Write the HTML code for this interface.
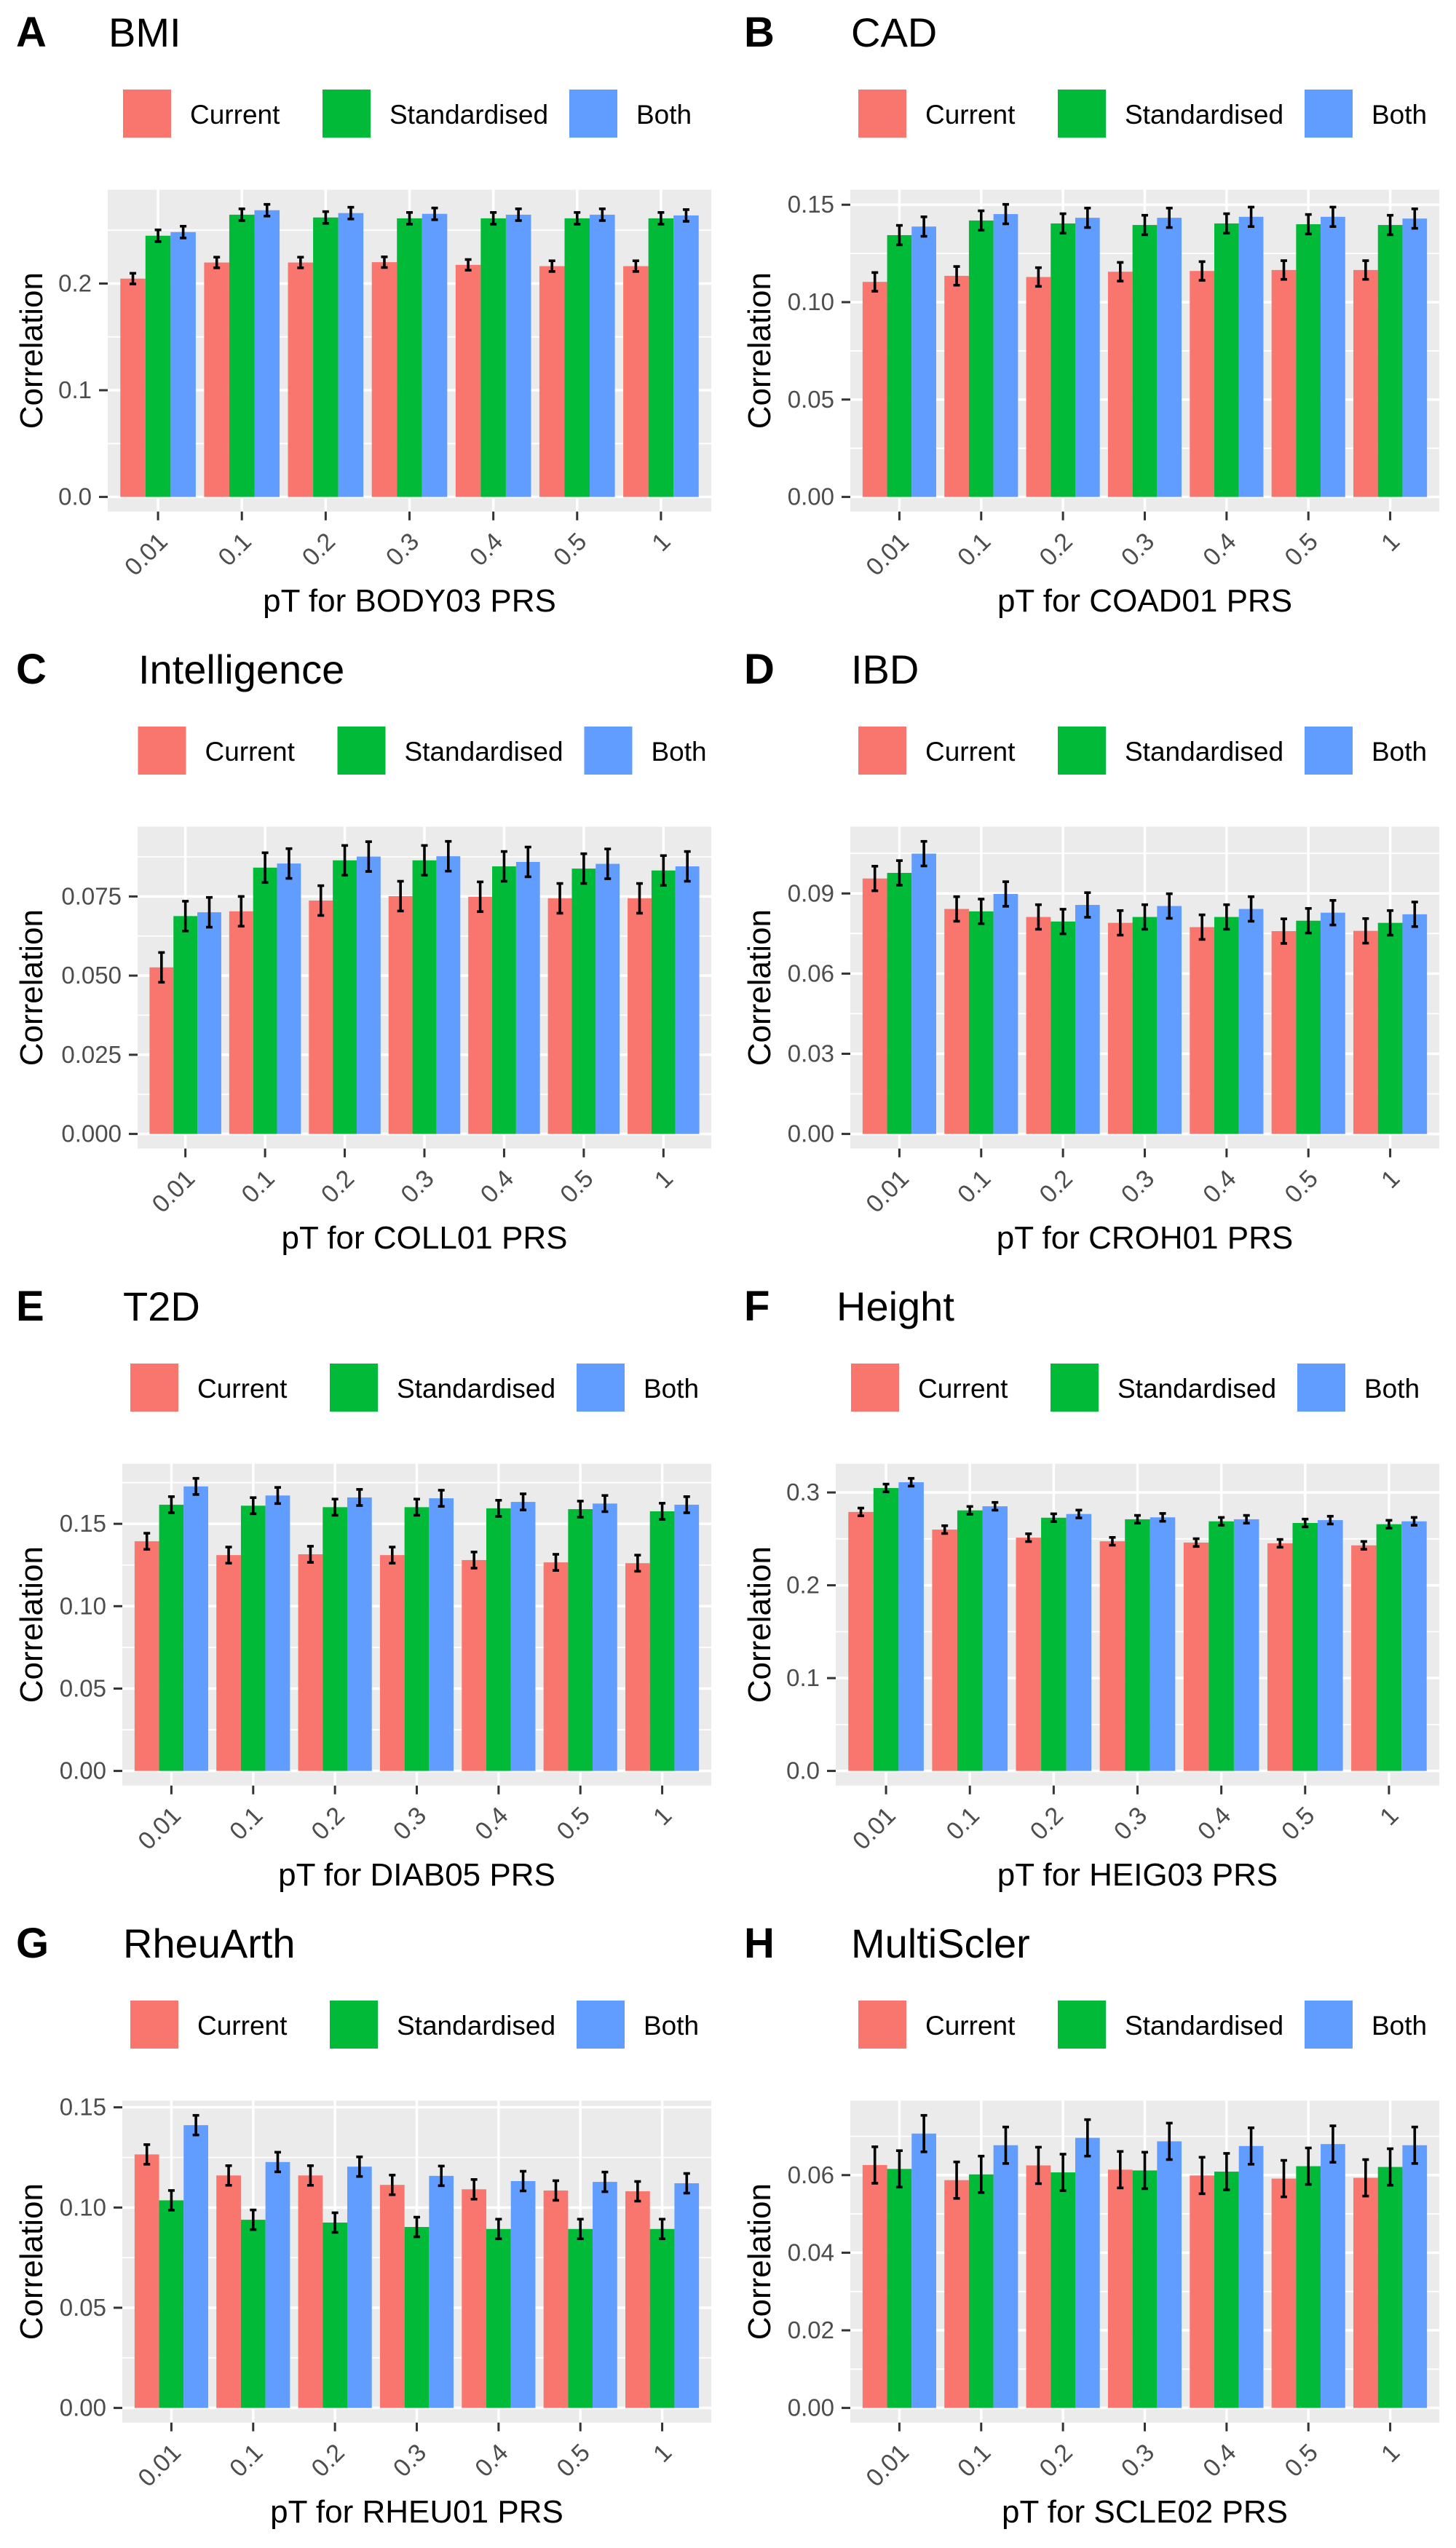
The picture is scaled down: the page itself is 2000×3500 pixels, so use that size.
<!DOCTYPE html>
<html><head><meta charset="utf-8">
<style>
html,body{margin:0;padding:0;background:#fff;}
svg{display:block;font-family:"Liberation Sans",Arial,sans-serif;}
</style></head>
<body>
<svg id="fig" width="2000" height="3500" viewBox="0 0 2000 3500" xmlns="http://www.w3.org/2000/svg"></svg>
<script>
// ---- shared data ----
const categories = ["0.01","0.1","0.2","0.3","0.4","0.5","1"];
const seriesNames = ["Current","Standardised","Both"];
const seriesColors = ["#F8766D","#00BA38","#619CFF"];

// Panel A — BMI
const A_current = [0.2046,0.2197,0.2197,0.2200,0.2175,0.2163,0.2163];
const A_standardised = [0.2448,0.2645,0.2619,0.2611,0.2611,0.2611,0.2611];
const A_both = [0.2482,0.2687,0.2660,0.2653,0.2645,0.2645,0.2638];
const A_err = [0.0050,0.0055,0.0055];
const A_ticks = [0,0.1,0.2];
const A_tickLabels = ["0.0","0.1","0.2"];
// Panel B — CAD
const B_current = [0.1104,0.1135,0.1129,0.1156,0.1160,0.1165,0.1165];
const B_standardised = [0.1344,0.1419,0.1404,0.1396,0.1404,0.1400,0.1396];
const B_both = [0.1388,0.1452,0.1433,0.1433,0.1438,0.1438,0.1429];
const B_err = [0.0048,0.0050,0.0050];
const B_ticks = [0,0.05,0.10,0.15];
const B_tickLabels = ["0.00","0.05","0.10","0.15"];
// Panel C — Intelligence
const C_current = [0.0526,0.0703,0.0737,0.0751,0.0749,0.0744,0.0744];
const C_standardised = [0.0688,0.0841,0.0864,0.0864,0.0845,0.0838,0.0832];
const C_both = [0.0700,0.0854,0.0876,0.0877,0.0859,0.0853,0.0845];
const C_err = [0.0047,0.0047,0.0047];
const C_ticks = [0,0.025,0.05,0.075];
const C_tickLabels = ["0.000","0.025","0.050","0.075"];
// Panel D — IBD
const D_current = [0.0956,0.0842,0.0812,0.0790,0.0774,0.0759,0.0760];
const D_standardised = [0.0977,0.0833,0.0795,0.0812,0.0812,0.0798,0.0790];
const D_both = [0.1049,0.0898,0.0857,0.0853,0.0842,0.0828,0.0822];
const D_err = [0.0046,0.0046,0.0046];
const D_ticks = [0,0.03,0.06,0.09];
const D_tickLabels = ["0.00","0.03","0.06","0.09"];
// Panel E — T2D
const E_current = [0.1394,0.1310,0.1315,0.1310,0.1280,0.1266,0.1261];
const E_standardised = [0.1616,0.1610,0.1601,0.1601,0.1594,0.1589,0.1576];
const E_both = [0.1727,0.1672,0.1660,0.1655,0.1633,0.1623,0.1616];
const E_err = [0.0049,0.0049,0.0049];
const E_ticks = [0,0.05,0.10,0.15];
const E_tickLabels = ["0.00","0.05","0.10","0.15"];
// Panel F — Height
const F_current = [0.2790,0.2600,0.2513,0.2474,0.2460,0.2452,0.2430];
const F_standardised = [0.3048,0.2807,0.2728,0.2711,0.2689,0.2671,0.2658];
const F_both = [0.3110,0.2851,0.2768,0.2732,0.2711,0.2702,0.2689];
const F_err = [0.0042,0.0042,0.0042];
const F_ticks = [0,0.1,0.2,0.3];
const F_tickLabels = ["0.0","0.1","0.2","0.3"];
// Panel G — RheuArth
const G_current = [0.1265,0.1160,0.1160,0.1113,0.1091,0.1085,0.1081];
const G_standardised = [0.1036,0.0939,0.0925,0.0903,0.0893,0.0893,0.0893];
const G_both = [0.1411,0.1227,0.1204,0.1158,0.1132,0.1128,0.1121];
const G_err = [0.0049,0.0049,0.0049];
const G_ticks = [0,0.05,0.10,0.15];
const G_tickLabels = ["0.00","0.05","0.10","0.15"];
// Panel H — MultiScler
const H_current = [0.0626,0.0587,0.0625,0.0614,0.0599,0.0591,0.0593];
const H_standardised = [0.0616,0.0602,0.0607,0.0612,0.0609,0.0623,0.0621];
const H_both = [0.0707,0.0677,0.0696,0.0687,0.0675,0.0680,0.0677];
const H_err = [0.0047,0.0047,0.0047];
const H_ticks = [0,0.02,0.04,0.06];
const H_tickLabels = ["0.00","0.02","0.04","0.06"];

const panels = [
  {tag:"A",title:"BMI",xlab:"pT for BODY03 PRS",series:[A_current,A_standardised,A_both],err:A_err,ticks:A_ticks,labels:A_tickLabels,left:148,col:0,row:0},
  {tag:"B",title:"CAD",xlab:"pT for COAD01 PRS",series:[B_current,B_standardised,B_both],err:B_err,ticks:B_ticks,labels:B_tickLabels,left:168,col:1,row:0},
  {tag:"C",title:"Intelligence",xlab:"pT for COLL01 PRS",series:[C_current,C_standardised,C_both],err:C_err,ticks:C_ticks,labels:C_tickLabels,left:189,col:0,row:1},
  {tag:"D",title:"IBD",xlab:"pT for CROH01 PRS",series:[D_current,D_standardised,D_both],err:D_err,ticks:D_ticks,labels:D_tickLabels,left:168,col:1,row:1},
  {tag:"E",title:"T2D",xlab:"pT for DIAB05 PRS",series:[E_current,E_standardised,E_both],err:E_err,ticks:E_ticks,labels:E_tickLabels,left:168,col:0,row:2},
  {tag:"F",title:"Height",xlab:"pT for HEIG03 PRS",series:[F_current,F_standardised,F_both],err:F_err,ticks:F_ticks,labels:F_tickLabels,left:148,col:1,row:2},
  {tag:"G",title:"RheuArth",xlab:"pT for RHEU01 PRS",series:[G_current,G_standardised,G_both],err:G_err,ticks:G_ticks,labels:G_tickLabels,left:168,col:0,row:3},
  {tag:"H",title:"MultiScler",xlab:"pT for SCLE02 PRS",series:[H_current,H_standardised,H_both],err:H_err,ticks:H_ticks,labels:H_tickLabels,left:168,col:1,row:3}
];

const NS = "http://www.w3.org/2000/svg";
const svg = document.getElementById("fig");
function mk(tag, attrs, parent, text){
  const e = document.createElementNS(NS, tag);
  for (const k in attrs) e.setAttribute(k, attrs[k]);
  if (text !== undefined) e.textContent = text;
  parent.appendChild(e);
  return e;
}

const TOP = 260.6, BOTTOM = 702.7, RIGHT = 977;

panels.forEach(p => {
  const g = mk("g", {transform:`translate(${p.col*1000},${p.row*875})`}, svg);
  
  
  const left = p.left;
  let yMax = 0;
  p.series.forEach((s, si) => s.forEach(v => { yMax = Math.max(yMax, v + p.err[si]); }));
  const yMin = 0;
  const span = yMax - yMin;
  const lo = yMin - 0.05*span, hi = yMax + 0.05*span;
  const y = v => BOTTOM - (v - lo) / (hi - lo) * (BOTTOM - TOP);
  const unit = (RIGHT - left) / (categories.length - 1 + 1.2);
  const x = i => left + (0.6 + i) * unit;

  const tg = mk("text", {x:22, y:64, "font-size":58, "font-weight":"bold", fill:"#000"}, g, p.tag);
  
  
  const tt = mk("text", {x:left+1, y:64, "font-size":56, fill:"#000"}, g, p.title);
  
  

  const cx = (left + RIGHT) / 2;
  const legOff = [-393.5, -119.5, 219.5];
  const lg = mk("g", {}, g);
  
  
  seriesNames.forEach((nm, si) => {
    const eg = mk("g", {}, lg);
    
    
    mk("rect", {x:cx+legOff[si], y:123, width:66, height:66, fill:seriesColors[si]}, eg);
    mk("text", {x:cx+legOff[si]+92, y:170, "font-size":37, fill:"#000"}, eg, nm);
  });

  const bg = mk("rect", {x:left, y:TOP, width:RIGHT-left, height:BOTTOM-TOP, fill:"#EBEBEB"}, g);
  
  
  const step = p.ticks[1] - p.ticks[0];
  for (let v = p.ticks[0] + step/2; v <= hi; v += step) {
    if (v < lo) continue;
    mk("line", {x1:left, x2:RIGHT, y1:y(v), y2:y(v), stroke:"#fff", "stroke-width":1.8}, g);
  }
  p.ticks.forEach(v => mk("line", {x1:left, x2:RIGHT, y1:y(v), y2:y(v), stroke:"#fff", "stroke-width":3.5}, g));
  categories.forEach((c, i) => mk("line", {x1:x(i), x2:x(i), y1:TOP, y2:BOTTOM, stroke:"#fff", "stroke-width":3.5}, g));

  const groupW = 0.9 * unit, barW = groupW / 3;
  p.series.forEach((s, si) => {
    s.forEach((v, i) => {
      const bx = x(i) - groupW/2 + si*barW;
      const r = mk("rect", {x:bx, y:y(v), width:barW, height:y(0)-y(v), fill:seriesColors[si]}, g);
      
      
    });
  });
  p.series.forEach((s, si) => {
    s.forEach((v, i) => {
      const ex = x(i) - groupW/2 + (si + 0.5)*barW;
      const e = p.err[si];
      const eg = mk("g", {stroke:"#000", "stroke-width":3.6}, g);
      
      
      mk("line", {x1:ex, x2:ex, y1:y(v+e), y2:y(v-e)}, eg);
      mk("line", {x1:ex-4.5, x2:ex+4.5, y1:y(v+e), y2:y(v+e)}, eg);
      mk("line", {x1:ex-4.5, x2:ex+4.5, y1:y(v-e), y2:y(v-e)}, eg);
    });
  });

  const ya = mk("g", {}, g);
  
  
  p.ticks.forEach((v, k) => {
    mk("line", {x1:left-12, x2:left, y1:y(v), y2:y(v), stroke:"#333", "stroke-width":3}, ya);
    mk("text", {x:left-22, y:y(v)+11, "font-size":33, fill:"#4D4D4D", "text-anchor":"end"}, ya, p.labels[k]);
  });
  const xa = mk("g", {}, g);
  
  
  categories.forEach((c, i) => {
    mk("line", {x1:x(i), x2:x(i), y1:BOTTOM, y2:BOTTOM+12, stroke:"#333", "stroke-width":3}, xa);
    mk("text", {transform:`translate(${x(i)+15},746) rotate(-45)`, "font-size":34, fill:"#4D4D4D", "text-anchor":"end"}, xa, c);
  });
  const xt = mk("text", {x:(left+RIGHT)/2, y:840, "font-size":44, fill:"#000", "text-anchor":"middle"}, g, p.xlab);
  
  
  const yt = mk("text", {transform:`translate(58,${(TOP+BOTTOM)/2}) rotate(-90)`, "font-size":44, fill:"#000", "text-anchor":"middle"}, g, "Correlation");
  
  
});
</script>
</body></html>
